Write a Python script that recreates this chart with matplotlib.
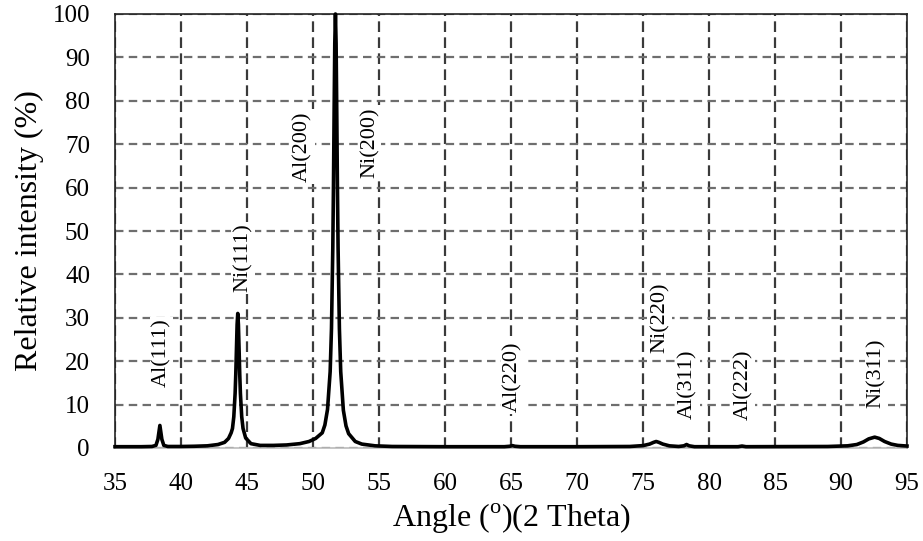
import matplotlib
matplotlib.use("Agg")
import matplotlib.pyplot as plt

plt.rcParams["font.family"] = ["Liberation Serif", "DejaVu Serif"]
plt.rcParams["mathtext.fontset"] = "custom"
plt.rcParams["mathtext.rm"] = "Liberation Serif"

# XRD trace, relative intensity vs 2-theta
angle = [35.0, 36.0, 37.0, 37.8, 38.1, 38.25, 38.4, 38.55, 38.7, 39.0, 40.0,
         41.0, 42.0, 42.8, 43.3, 43.6, 43.8, 43.9, 44.0, 44.1, 44.15, 44.2,
         44.25, 44.3, 44.35, 44.4, 44.45, 44.5, 44.6, 44.7, 44.9, 45.3, 46.0,
         47.0, 48.0, 49.0, 49.7, 50.2, 50.7, 50.9, 51.1, 51.3, 51.4, 51.5,
         51.55, 51.6, 51.65, 51.7, 51.75, 51.8, 51.85, 51.9, 52.0, 52.1, 52.3,
         52.5, 52.7, 53.2, 53.7, 54.7, 56.0, 60.0, 64.5, 64.9, 65.1, 65.3,
         65.7, 70.0, 74.0, 75.0, 75.5, 75.8, 76.0, 76.2, 76.5, 77.0, 77.7,
         78.1, 78.3, 78.5, 78.9, 82.2, 82.5, 82.8, 89.0, 90.5, 91.2, 91.7,
         92.1, 92.55, 92.9, 93.3, 93.8, 94.3, 95.0]
intensity = [0.3, 0.3, 0.3, 0.35, 0.6, 2.0, 5.2, 2.0, 0.6, 0.35, 0.35,
             0.4, 0.5, 0.8, 1.3, 2.2, 3.5, 4.5, 7.2, 12.6, 17.0, 22.7,
             28.4, 31.0, 28.4, 22.7, 17.0, 12.6, 7.2, 4.5, 2.3, 1.0, 0.6,
             0.6, 0.7, 1.0, 1.5, 2.2, 3.5, 5.3, 8.9, 17.6, 27.5, 46.1,
             60.3, 77.4, 93.2, 100.0, 93.2, 77.4, 60.3, 46.1, 27.5, 17.6, 8.7,
             5.1, 3.3, 1.5, 0.9, 0.5, 0.35, 0.3, 0.3, 0.4, 0.55, 0.4,
             0.3, 0.3, 0.35, 0.55, 0.9, 1.3, 1.5, 1.3, 0.9, 0.5, 0.35,
             0.5, 0.8, 0.5, 0.3, 0.3, 0.45, 0.3, 0.35, 0.5, 0.8, 1.4,
             2.1, 2.5, 2.2, 1.5, 0.9, 0.6, 0.45]

# peak labels: text, x position, y centre
peak_names = ["Al(111)", "Ni(111)", "Al(200)", "Ni(200)", "Al(220)",
              "Ni(220)", "Al(311)", "Al(222)", "Ni(311)"]
peak_x = [38.5, 44.7, 49.25, 54.3, 65.15, 76.3, 78.4, 82.6, 92.7]
peak_y = [21.9, 43.8, 69.5, 70.4, 16.4, 30.0, 14.8, 14.5, 17.3]

x_ticks = list(range(35, 96, 5))
y_ticks = list(range(0, 101, 10))

fig = plt.figure(figsize=(9.23, 5.41), dpi=100)
ax = fig.add_axes([115 / 923, 1 - 448 / 541, 792 / 923, 434 / 541])

ax.set_xlim(35, 95)
ax.set_ylim(0, 100)
ax.set_xticks(x_ticks)
ax.set_yticks(y_ticks)
ax.tick_params(axis="x", length=0, pad=18, labelsize=18)
ax.tick_params(axis="y", length=0, pad=18, labelsize=18)

ax.xaxis.grid(True, color="#3a3a3a", lw=1.6, linestyle=(0, (4.8, 2.4)), zorder=0)
ax.yaxis.grid(True, color="#6e6e6e", lw=1.6, linestyle=(0, (3.8, 2.4)), zorder=0)
ax.set_axisbelow(True)

for side in ["left", "right", "top"]:
    ax.spines[side].set_color("#222222")
    ax.spines[side].set_linewidth(1.2)
ax.spines["bottom"].set_color("#bbbbbb")
ax.spines["bottom"].set_linewidth(1.2)

ax.plot(angle, intensity, color="black", lw=2.6, zorder=4, clip_on=False)

for name, px, py in zip(peak_names, peak_x, peak_y):
    ax.text(px, py, name, rotation=90, ha="center", va="center", fontsize=16,
            zorder=3, bbox=dict(facecolor="white", edgecolor="none", pad=1.5))

ax.set_xlabel(r"Angle ($^{\rm o}$)(2 Theta)", fontsize=23, labelpad=5)
ax.set_ylabel("Relative intensity (%)", fontsize=23, labelpad=6)

fig.savefig("out.png", dpi=100)
